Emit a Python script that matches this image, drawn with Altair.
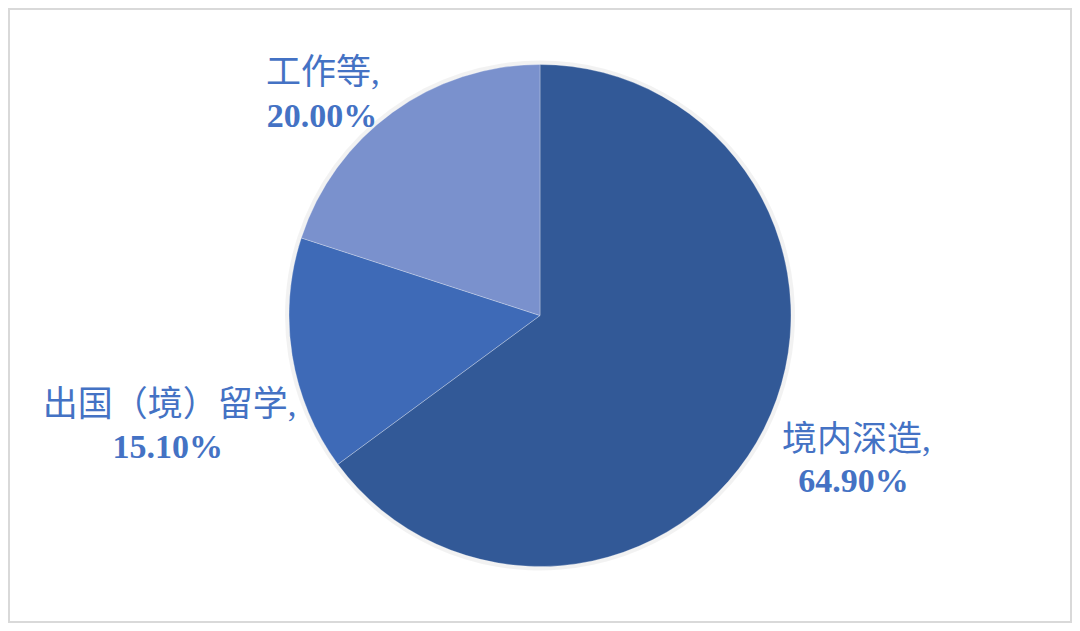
import altair as alt
import pandas as pd

categories = ["境内深造", "出国（境）留学", "工作等"]
values = [64.90, 15.10, 20.00]
colors = ["#325997", "#3E6AB7", "#7A91CD"]

df = pd.DataFrame({
    "idx": list(range(len(categories))),
    "category": categories,
    "value": values,
    "name_label": [c + "," for c in categories],
    "pct_label": [f"{v:.2f}%" for v in values],
})

W, H = 1064, 615
R = 251
FONT = "Liberation Serif, Noto Sans CJK SC, serif"
TXT_COLOR = "#4472C4"

frame = alt.Chart(pd.DataFrame({"f": [0]})).mark_rect(
    fill="#ffffff", stroke="#d9d9d9", strokeWidth=2
).encode(x=alt.value(1), x2=alt.value(W - 1), y=alt.value(1), y2=alt.value(H - 1))

base = alt.Chart(df).encode(
    theta=alt.Theta("value:Q", stack=True),
    order=alt.Order("idx:Q", sort="ascending"),
)

shadow = base.mark_arc(radius=R + 4, color="#000000", opacity=0.05)

pie = base.mark_arc(radius=R, stroke="#ffffff", strokeWidth=0.8, strokeOpacity=0.35).encode(
    color=alt.Color("category:N", scale=alt.Scale(domain=categories, range=colors), legend=None)
)

# label layout: (radius, dx line1, dy line1, dx line2, dy line2)
label_layout = {
    "境内深造": (340, 13, -18, 10, 23),
    "出国（境）留学": (370, -5, 41, -7, 83),
    "工作等": (320, -29, 27, -30, 70),
}

layers = [frame, shadow, pie]
for c in categories:
    r, dx1, dy1, dx2, dy2 = label_layout[c]
    name_layer = base.transform_calculate(
        t=f"datum.category == '{c}' ? datum.name_label : ''"
    ).mark_text(
        radius=r, dx=dx1, dy=dy1, font=FONT, fontSize=35, color=TXT_COLOR,
        align="center", baseline="alphabetic",
    ).encode(text="t:N")
    pct_layer = base.transform_calculate(
        t=f"datum.category == '{c}' ? datum.pct_label : ''"
    ).mark_text(
        radius=r, dx=dx2, dy=dy2, font=FONT, fontSize=34, fontWeight="bold", color=TXT_COLOR,
        align="center", baseline="alphabetic",
    ).encode(text="t:N")
    layers += [name_layer, pct_layer]

chart = alt.layer(*layers).properties(
    width=W, height=H, padding=0, autosize=alt.AutoSizeParams(type="none"),
    background="#ffffff",
).configure_view(stroke=None)

chart.save("out.html", embed_options={"renderer": "svg", "actions": False})
